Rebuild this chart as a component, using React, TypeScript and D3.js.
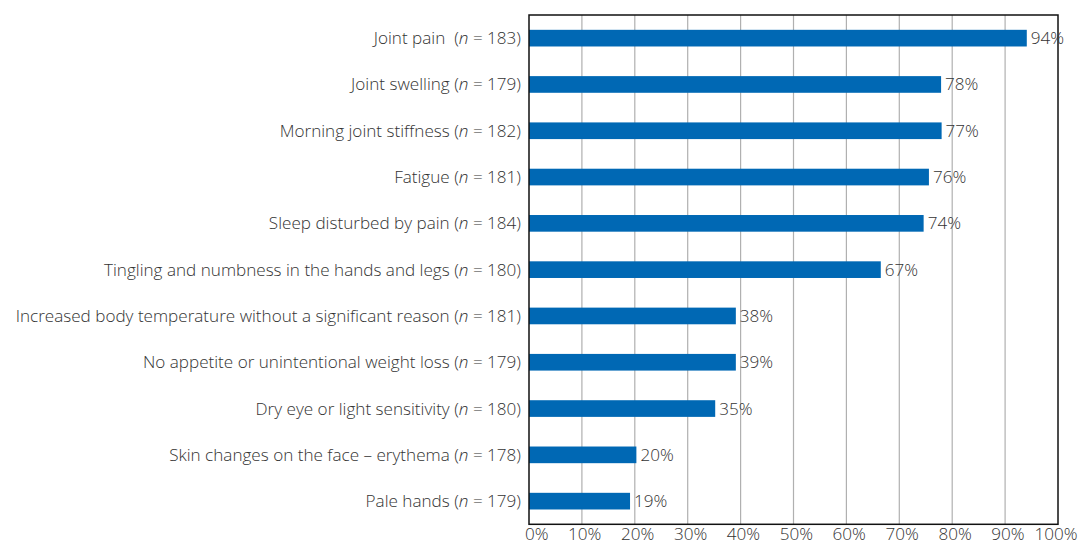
import { useEffect, useRef } from 'react';
import * as d3 from 'd3';

const CATEGORIES = [
  'Joint pain ',
  'Joint swelling',
  'Morning joint stiffness',
  'Fatigue',
  'Sleep disturbed by pain',
  'Tingling and numbness in the hands and legs',
  'Increased body temperature without a significant reason',
  'No appetite or unintentional weight loss',
  'Dry eye or light sensitivity',
  'Skin changes on the face – erythema',
  'Pale hands',
];
const N_COUNTS = [183, 179, 182, 181, 184, 180, 181, 179, 180, 178, 179];
// bar lengths as drawn (percent)
const BAR_VALUES = [94.1, 77.9, 78, 75.6, 74.6, 66.5, 39.1, 39.1, 35.2, 20.3, 19.1];
const VALUE_LABELS = ['94%', '78%', '77%', '76%', '74%', '67%', '38%', '39%', '35%', '20%', '19%'];
const X_TICKS = [0, 10, 20, 30, 40, 50, 60, 70, 80, 90, 100];

const WIDTH = 1079;
const HEIGHT = 545;
const FONT = '"Open Sans", "Noto Sans", sans-serif';
const TEXT = '#333333';
const BAR = '#0068b4';

export default function App() {
  const ref = useRef<SVGSVGElement>(null);

  useEffect(() => {
    if (!ref.current) return;
    const svg = d3.select(ref.current);
    svg.selectAll('*').remove();

    const left = 529;
    const right = 1058;
    const top = 15;
    const bottom = 524.3;

    const x = d3.scaleLinear().domain([0, 100]).range([left, right]);
    const y = d3.scaleBand<number>()
      .domain(d3.range(CATEGORIES.length))
      .range([top, bottom])
      .paddingInner(0.64)
      .paddingOuter(0.32);

    const g = svg.append('g')
      .attr('font-family', FONT)
      .attr('font-size', 17.1)
      .attr('font-weight', 300)
      .attr('fill', TEXT);

    // vertical grid
    g.append('g').selectAll('line')
      .data(X_TICKS.slice(1, -1))
      .enter().append('line')
      .attr('x1', d => x(d)).attr('x2', d => x(d))
      .attr('y1', top).attr('y2', bottom)
      .attr('stroke', '#b0b0b0').attr('stroke-width', 1.2);

    // bars
    g.append('g').selectAll('rect')
      .data(BAR_VALUES)
      .enter().append('rect')
      .attr('x', x(0))
      .attr('y', (_, i) => y(i)!)
      .attr('width', d => x(d) - x(0))
      .attr('height', y.bandwidth())
      .attr('fill', BAR);

    // frame
    g.append('rect')
      .attr('x', left).attr('y', top)
      .attr('width', right - left).attr('height', bottom - top)
      .attr('fill', 'none').attr('stroke', '#111').attr('stroke-width', 1.5);

    // value labels
    g.append('g').selectAll('text')
      .data(BAR_VALUES)
      .enter().append('text')
      .attr('x', d => x(d) + 4)
      .attr('y', (_, i) => y(i)! + y.bandwidth() / 2)
      .attr('dy', '0.35em')
      .text((_, i) => VALUE_LABELS[i]);

    // category labels
    const cat = g.append('g').selectAll('text')
      .data(CATEGORIES)
      .enter().append('text')
      .attr('x', left - 8)
      .attr('y', (_, i) => y(i)! + y.bandwidth() / 2)
      .attr('dy', '0.35em')
      .attr('text-anchor', 'end')
      .style('white-space', 'pre');
    cat.append('tspan').text(d => d + ' (');
    cat.append('tspan').attr('font-style', 'italic').text('n');
    cat.append('tspan').text((_, i) => ` = ${N_COUNTS[i]})`);

    // x tick labels (right-aligned a little past each gridline)
    g.append('g').selectAll('text')
      .data(X_TICKS)
      .enter().append('text')
      .attr('x', d => x(d) + 19.5)
      .attr('y', 540)
      .attr('text-anchor', 'end')
      .text(d => `${d}%`);
  }, []);

  return (
    <svg
      ref={ref}
      width={WIDTH}
      height={HEIGHT}
      style={{ position: 'absolute', left: 0, top: 0, background: '#fff' }}
    />
  );
}
